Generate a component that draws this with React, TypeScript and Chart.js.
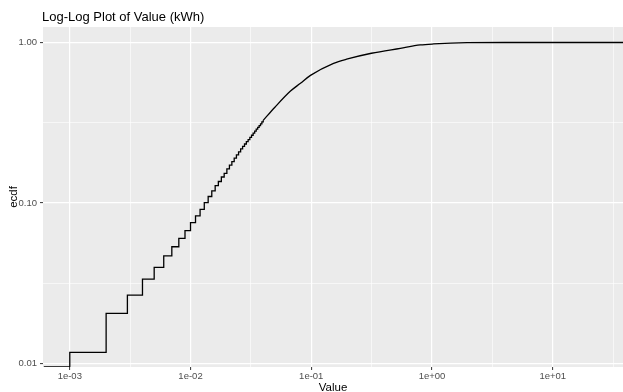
import React, { useEffect, useRef } from 'react';
import { Chart, registerables } from 'chart.js';

Chart.register(...registerables);

const titleText = 'Log-Log Plot of Value (kWh)';
const xTitle = 'Value';
const yTitle = 'ecdf';

const xMajorTicks = [1e-3, 1e-2, 1e-1, 1, 10];
const xTickLabels = ['1e-03', '1e-02', '1e-01', '1e+00', '1e+01'];
const xMinorTicks = [Math.pow(10, -2.5), Math.pow(10, -1.5), Math.pow(10, -0.5), Math.pow(10, 0.5), Math.pow(10, 1.5)];
const yMajorTicks = [0.01, 0.1, 1];
const yTickLabels = ['0.01', '0.10', '1.00'];
const yMinorTicks = [Math.pow(10, -1.5), Math.pow(10, -0.5)];

const xLimits = [Math.pow(10, -3.215), Math.pow(10, 1.582)];
const yLimits = [Math.pow(10, -2.023), Math.pow(10, 0.0966)];

// Staircase part of the ECDF (values in kWh, recorded at 0.001 resolution)
const stepValues = [
  0.001, 0.002, 0.003, 0.004, 0.005, 0.006, 0.007, 0.008, 0.009, 0.010,
  0.011, 0.012, 0.013, 0.014, 0.015, 0.016, 0.017, 0.018, 0.019, 0.020,
  0.021, 0.022, 0.023, 0.024, 0.025, 0.026, 0.027, 0.028, 0.029, 0.030,
  0.031, 0.032, 0.033, 0.034, 0.035, 0.036, 0.037, 0.038, 0.039, 0.040,
];
const stepEcdf = [
  0.0117, 0.0205, 0.0266, 0.0335, 0.0396, 0.0467, 0.0533, 0.0601, 0.0671, 0.0753,
  0.0829, 0.0912, 0.1004, 0.1096, 0.119, 0.128, 0.136, 0.145, 0.153, 0.163,
  0.172, 0.181, 0.19, 0.199, 0.208, 0.217, 0.225, 0.233, 0.241, 0.248,
  0.256, 0.264, 0.272, 0.28, 0.288, 0.296, 0.303, 0.311, 0.32, 0.327,
];

// Smooth upper part of the ECDF
const curveValues = [0.040, 0.050, 0.0673, 0.0814, 0.0985, 0.153, 0.2, 0.315, 0.547, 0.8, 1.03, 1.95, 4.0];
const curveEcdf = [0.327, 0.395, 0.498, 0.557, 0.624, 0.742, 0.79, 0.857, 0.92, 0.965, 0.979, 0.997, 1.0];

const FONT = '"Liberation Sans", Arial, Helvetica, sans-serif';

function buildTicks(major: number[], minor: number[]) {
  const all = [
    ...major.map((v) => ({ value: v, minor: false })),
    ...minor.map((v) => ({ value: v, minor: true })),
  ];
  all.sort((a, b) => a.value - b.value);
  return all;
}

function labelFor(value: number, major: number[], labels: string[]) {
  for (let i = 0; i < major.length; i++) {
    if (Math.abs(Math.log10(value) - Math.log10(major[i])) < 1e-6) return labels[i];
  }
  return '';
}

const decoPlugin = {
  id: 'deco',
  beforeDraw(chart: any) {
    const { ctx, chartArea: a } = chart;
    ctx.save();
    ctx.fillStyle = '#EBEBEB';
    ctx.fillRect(a.left, a.top, a.right - a.left, a.bottom - a.top);
    ctx.restore();
  },
  afterDraw(chart: any) {
    const { ctx, chartArea: a } = chart;
    ctx.save();
    ctx.fillStyle = '#000000';
    ctx.textBaseline = 'alphabetic';
    ctx.textAlign = 'left';
    ctx.font = `13px ${FONT}`;
    ctx.fillText(titleText, a.left - 1, 20.5);

    ctx.font = `11.5px ${FONT}`;
    ctx.textAlign = 'center';
    ctx.fillText(xTitle, (a.left + a.right) / 2, 391);

    ctx.translate(14, (a.top + a.bottom) / 2);
    ctx.rotate(-Math.PI / 2);
    ctx.textBaseline = 'middle';
    ctx.fillText(yTitle, 0, 0);
    ctx.restore();
  },
};

export default function App() {
  const ref = useRef<HTMLCanvasElement | null>(null);

  useEffect(() => {
    if (!ref.current) return;
    const stepData = [
      { x: xLimits[0], y: yLimits[0] },
      ...stepValues.map((v, i) => ({ x: v, y: stepEcdf[i] })),
    ];
    const curveData = [
      ...curveValues.map((v, i) => ({ x: v, y: curveEcdf[i] })),
      { x: xLimits[1], y: curveEcdf[curveEcdf.length - 1] },
    ];

    const gridCommon = {
      color: '#FFFFFF',
      lineWidth: (c: any) => (c.tick && c.tick.minor ? 0.6 : 1.2),
      tickColor: (c: any) => (c.tick && c.tick.minor ? 'rgba(0,0,0,0)' : '#333333'),
      tickLength: 3,
      tickWidth: 1,
      drawTicks: true,
    };

    const chart = new Chart(ref.current, {
      type: 'line',
      data: {
        datasets: [
          {
            data: stepData,
            stepped: 'before',
            borderColor: '#000000',
            borderWidth: 1.3,
            pointRadius: 0,
            fill: false,
          },
          {
            data: curveData,
            cubicInterpolationMode: 'monotone',
            borderColor: '#000000',
            borderWidth: 1.3,
            pointRadius: 0,
            fill: false,
          },
        ],
      },
      options: {
        animation: false,
        responsive: false,
        devicePixelRatio: 1,
        layout: { padding: { top: 27, left: 0, right: 0, bottom: 0 } },
        plugins: {
          legend: { display: false },
          tooltip: { enabled: false },
          title: { display: false },
        },
        scales: {
          x: {
            type: 'logarithmic',
            min: xLimits[0],
            max: xLimits[1],
            afterBuildTicks: (scale: any) => {
              scale.ticks = buildTicks(xMajorTicks, xMinorTicks);
            },
            afterFit: (scale: any) => {
              scale.height = 25;
            },
            grid: gridCommon,
            border: { display: false },
            ticks: {
              autoSkip: false,
              maxRotation: 0,
              minRotation: 0,
              padding: 1,
              color: '#4D4D4D',
              font: { family: FONT, size: 9.5 },
              callback: (value: any) => labelFor(Number(value), xMajorTicks, xTickLabels),
            },
          },
          y: {
            type: 'logarithmic',
            min: yLimits[0],
            max: yLimits[1],
            afterBuildTicks: (scale: any) => {
              scale.ticks = buildTicks(yMajorTicks, yMinorTicks);
            },
            afterFit: (scale: any) => {
              scale.width = 43;
            },
            grid: gridCommon,
            border: { display: false },
            ticks: {
              autoSkip: false,
              padding: 3,
              color: '#4D4D4D',
              font: { family: FONT, size: 9.5 },
              callback: (value: any) => labelFor(Number(value), yMajorTicks, yTickLabels),
            },
          },
        },
      },
      plugins: [decoPlugin],
    } as any);

    return () => chart.destroy();
  }, []);

  return (
    <div style={{ position: 'fixed', left: 0, top: 0, width: 623, height: 392, background: '#FFFFFF' }}>
      <canvas ref={ref} width={623} height={392} style={{ display: 'block' }} />
    </div>
  );
}
